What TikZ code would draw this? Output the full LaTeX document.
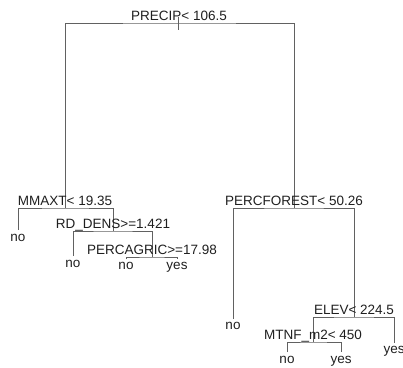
\documentclass[tikz,border=0pt]{standalone}
\usepackage{fontspec}
\setmainfont{Liberation Sans}
\usepackage{tikz}

\begin{document}
\begin{tikzpicture}[x=1pt,y=-1pt,font=\fontsize{13.5}{16}\selectfont,
  branch/.style={draw=black!62,line width=0.8pt},
  splittext/.style={anchor=base,inner sep=0pt,text=black!88},
  leaftext/.style={anchor=base,inner sep=0pt,text=black!88}]
  \useasboundingbox (0,0) rectangle (403,367);
  % split points
  \coordinate (precip) at (179,23);
  \coordinate (mmaxt) at (65,208);
  \coordinate (rddens) at (113,231);
  \coordinate (agric) at (152,257);
  \coordinate (forest) at (294,208);
  \coordinate (elev) at (354,317);
  \coordinate (mtnf) at (313,342);
  % leaves
  \coordinate (leafa) at (18,230);
  \coordinate (leafb) at (73,256);
  \coordinate (leafc) at (126,259);
  \coordinate (leafd) at (177,259);
  \coordinate (leafe) at (233,319);
  \coordinate (leaff) at (287,352);
  \coordinate (leafg) at (341,352);
  \coordinate (leafh) at (394,343);
  % branches
  \coordinate (tiptop) at (178,17);
  \coordinate (tipbot) at (178,30);
  \draw[branch] (tiptop) -- (tipbot);
  \draw[branch] (mmaxt) |- (precip) -| (forest);
  \draw[branch] (leafa) |- (mmaxt) -| (rddens);
  \draw[branch] (leafb) |- (rddens) -| (agric);
  \draw[branch] (leafc) |- (agric) -| (leafd);
  \draw[branch] (leafe) |- (forest) -| (elev);
  \draw[branch] (mtnf) |- (elev) -| (leafh);
  \draw[branch] (leaff) |- (mtnf) -| (leafg);
  % split labels
  \node[splittext] (tprecip) at ([yshift=3pt]precip) {PRECIP< 106.5};
  \node[splittext] (tmmaxt) at ([yshift=3pt]mmaxt) {MMAXT< 19.35};
  \node[splittext] (trddens) at ([yshift=3pt]rddens) {RD\_DENS>=1.421};
  \node[splittext] (tagric) at ([yshift=3pt]agric) {PERCAGRIC>=17.98};
  \node[splittext] (tforest) at ([yshift=3pt]forest) {PERCFOREST< 50.26};
  \node[splittext] (telev) at ([yshift=3pt]elev) {ELEV< 224.5};
  \node[splittext] (tmtnf) at ([yshift=3pt]mtnf) {MTNF\_m2< 450};
  % leaf labels
  \node[leaftext] (na) at ([yshift=-11pt]leafa) {no};
  \node[leaftext] (nb) at ([yshift=-11pt]leafb) {no};
  \node[leaftext] (nc) at ([yshift=-10pt]leafc) {no};
  \node[leaftext] (nd) at ([yshift=-10pt]leafd) {yes};
  \node[leaftext] (ne) at ([yshift=-10pt]leafe) {no};
  \node[leaftext] (nf) at ([yshift=-11pt]leaff) {no};
  \node[leaftext] (ng) at ([yshift=-11pt]leafg) {yes};
  \node[leaftext] (nh) at ([yshift=-10pt]leafh) {yes};
\end{tikzpicture}
\end{document}
